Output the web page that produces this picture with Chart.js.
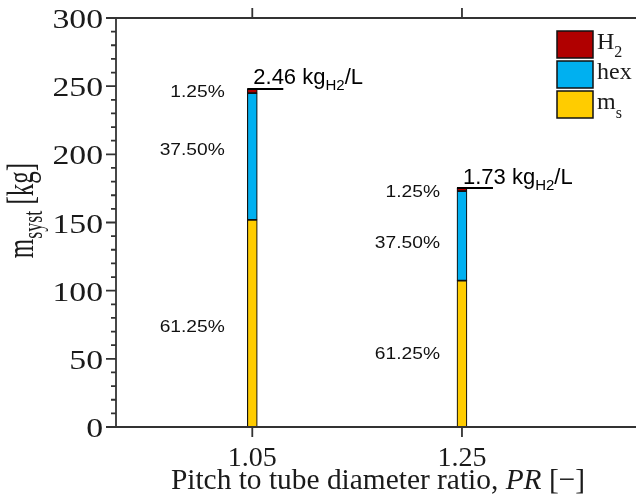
<!DOCTYPE html>
<html>
<head>
<meta charset="utf-8">
<script src="https://cdn.jsdelivr.net/npm/chart.js@4.4.1/dist/chart.umd.min.js"></script>
<style>
  html, body { margin: 0; padding: 0; background: #fff; overflow: hidden; }
  #wrap { width: 636px; height: 498px; }
</style>
</head>
<body>
<div id="wrap"><canvas id="chart" width="636" height="498"></canvas></div>
<script>
// data
const ratios = [1.05, 1.25];
const massSteel = [151.9, 107.4];
const massHex = [93.0, 65.7];
const massH2 = [3.1, 2.2];
const densityText = ["2.46", "1.73"];
const pctSteel = ["61.25%", "61.25%"];
const pctHex = ["37.50%", "37.50%"];
const pctH2 = ["1.25%", "1.25%"];
// where the percent labels sit, in kg
const pctSteelAt = [74, 54];
const pctHexAt = [204, 135.5];
const pctH2At = [246, 172.6];
const yTicks = [0, 50, 100, 150, 200, 250, 300];
const yMinorStep = 10;
const xTicks = [1.05, 1.25];
const xTickLabels = ["1.05", "1.25"];

const RED = "#B00000";
const BLUE = "#00B0F0";
const GOLD = "#FFCC00";
const SERIF = '"Liberation Serif", "Times New Roman", serif';
const SANS = '"Liberation Sans", Arial, sans-serif';
const INK = "#1a1a1a";

// draw a run of text pieces, stretched by sx along the text and sy across it
function rich(ctx, segs, x, y, o) {
    o = Object.assign({ sx: 1, sy: 1, align: "left", rot: 0, family: SERIF, color: INK }, o);
    ctx.save();
    ctx.translate(x, y);
    ctx.rotate(o.rot);
    ctx.scale(o.sx, o.sy);
    ctx.fillStyle = o.color;
    ctx.textBaseline = "alphabetic";
    ctx.textAlign = "left";
    const fonts = segs.map(s => `${s.style || ""} ${s.size}px ${s.family || o.family}`);
    const widths = segs.map((s, i) => { ctx.font = fonts[i]; return ctx.measureText(s.t).width; });
    const total = widths.reduce((a, b) => a + b, 0);
    let cx = o.align === "center" ? -total / 2 : o.align === "right" ? -total : 0;
    segs.forEach((s, i) => {
        ctx.font = fonts[i];
        ctx.fillText(s.t, cx, s.dy || 0);
        cx += widths[i];
    });
    ctx.restore();
}

const decorations = {
    id: "decorations",
    afterDatasetsDraw(chart) {
        const { ctx, chartArea: a, scales: { x, y } } = chart;
        ctx.save();

        // frame + ticks
        ctx.strokeStyle = "#333";
        ctx.lineWidth = 1.8;
        ctx.beginPath();
        ctx.moveTo(a.left - 10, a.top); ctx.lineTo(a.right, a.top);
        ctx.moveTo(a.left - 10, a.bottom); ctx.lineTo(a.right, a.bottom);
        ctx.moveTo(a.left, a.top); ctx.lineTo(a.left, a.bottom);
        for (let v = 0; v <= 300; v += yMinorStep) {
            const py = y.getPixelForValue(v);
            const len = yTicks.includes(v) ? 10 : 5;
            ctx.moveTo(a.left - len, py); ctx.lineTo(a.left, py);
        }
        xTicks.forEach(t => {
            const px = x.getPixelForValue(t);
            ctx.moveTo(px, a.bottom); ctx.lineTo(px, a.bottom + 10);
            ctx.moveTo(px, a.top); ctx.lineTo(px, a.top - 10);
        });
        ctx.stroke();

        // tick labels
        yTicks.forEach(t => {
            rich(ctx, [{ t: String(t), size: 27 }], 103, y.getPixelForValue(t) + 10, { align: "right", sx: 1.25 });
        });
        xTicks.forEach((t, i) => {
            rich(ctx, [{ t: xTickLabels[i], size: 28 }], x.getPixelForValue(t), 466, { align: "center" });
        });

        // axis titles
        rich(ctx, [
            { t: "Pitch to tube diameter ratio, ", size: 30 },
            { t: "PR", size: 30, style: "italic" },
            { t: " [\u2212]", size: 30 }
        ], 378, 489, { align: "center", sx: 0.98 });
        rich(ctx, [
            { t: "m", size: 25 },
            { t: "syst", size: 18, dy: 6 },
            { t: " [kg]", size: 25 }
        ], 33, 210.5, { align: "center", rot: -Math.PI / 2, sy: 1.48 });

        // percentages beside each bar
        const pctRight = [27.5, 22];
        ratios.forEach((r, i) => {
            const px = x.getPixelForValue(r) - pctRight[i];
            [[pctH2[i], pctH2At[i]], [pctHex[i], pctHexAt[i]], [pctSteel[i], pctSteelAt[i]]].forEach(([s, v]) => {
                rich(ctx, [{ t: s, size: 16 }], px, y.getPixelForValue(v) + 5.8, { align: "right", sx: 1.2, family: SANS, color: "#111" });
            });
        });

        // storage density callouts at bar tops
        ctx.strokeStyle = "#000";
        ctx.lineWidth = 2;
        ratios.forEach((r, i) => {
            const px = x.getPixelForValue(r);
            const top = y.getPixelForValue(massSteel[i] + massHex[i] + massH2[i]);
            ctx.beginPath();
            ctx.moveTo(px - 5, top); ctx.lineTo(px + 31, top);
            ctx.stroke();
            rich(ctx, [
                { t: densityText[i] + " kg", size: 22 },
                { t: "H2", size: 15, dy: 6 },
                { t: "/L", size: 22 }
            ], px + 1, top - 4.5, { family: SANS, color: "#000" });
        });

        // legend
        const legend = [
            [RED, [{ t: "H", size: 24 }, { t: "2", size: 16, dy: 8 }]],
            [BLUE, [{ t: "hex", size: 24 }]],
            [GOLD, [{ t: "m", size: 24 }, { t: "s", size: 16, dy: 9 }]]
        ];
        legend.forEach(([col, segs], k) => {
            const by = 31 + k * 30;
            ctx.fillStyle = col;
            ctx.fillRect(557, by, 36, 27);
            ctx.strokeStyle = "#111";
            ctx.lineWidth = 1.5;
            ctx.strokeRect(557, by, 36, 27);
            rich(ctx, segs, 597, by + 18);
        });

        ctx.restore();
    }
};

const barStyle = { borderColor: "#111", borderWidth: 1.2, borderSkipped: false, barThickness: 10 };

new Chart(document.getElementById("chart"), {
    type: "bar",
    data: {
        datasets: [
            Object.assign({ label: "m_s", backgroundColor: GOLD, data: ratios.map((r, i) => ({ x: r, y: massSteel[i] })) }, barStyle),
            Object.assign({ label: "hex", backgroundColor: BLUE, data: ratios.map((r, i) => ({ x: r, y: massHex[i] })) }, barStyle),
            Object.assign({ label: "H2", backgroundColor: RED, data: ratios.map((r, i) => ({ x: r, y: massH2[i] })) }, barStyle)
        ]
    },
    options: {
        responsive: false,
        animation: false,
        devicePixelRatio: 1,
        layout: { padding: { left: 116, top: 18, right: 0, bottom: 71 } },
        plugins: { legend: { display: false }, tooltip: { enabled: false } },
        scales: {
            x: { type: "linear", min: 0.92, max: 1.416, offset: false, stacked: true, display: false },
            y: { min: 0, max: 300, stacked: true, display: false }
        }
    },
    plugins: [decorations]
});
</script>
</body>
</html>
